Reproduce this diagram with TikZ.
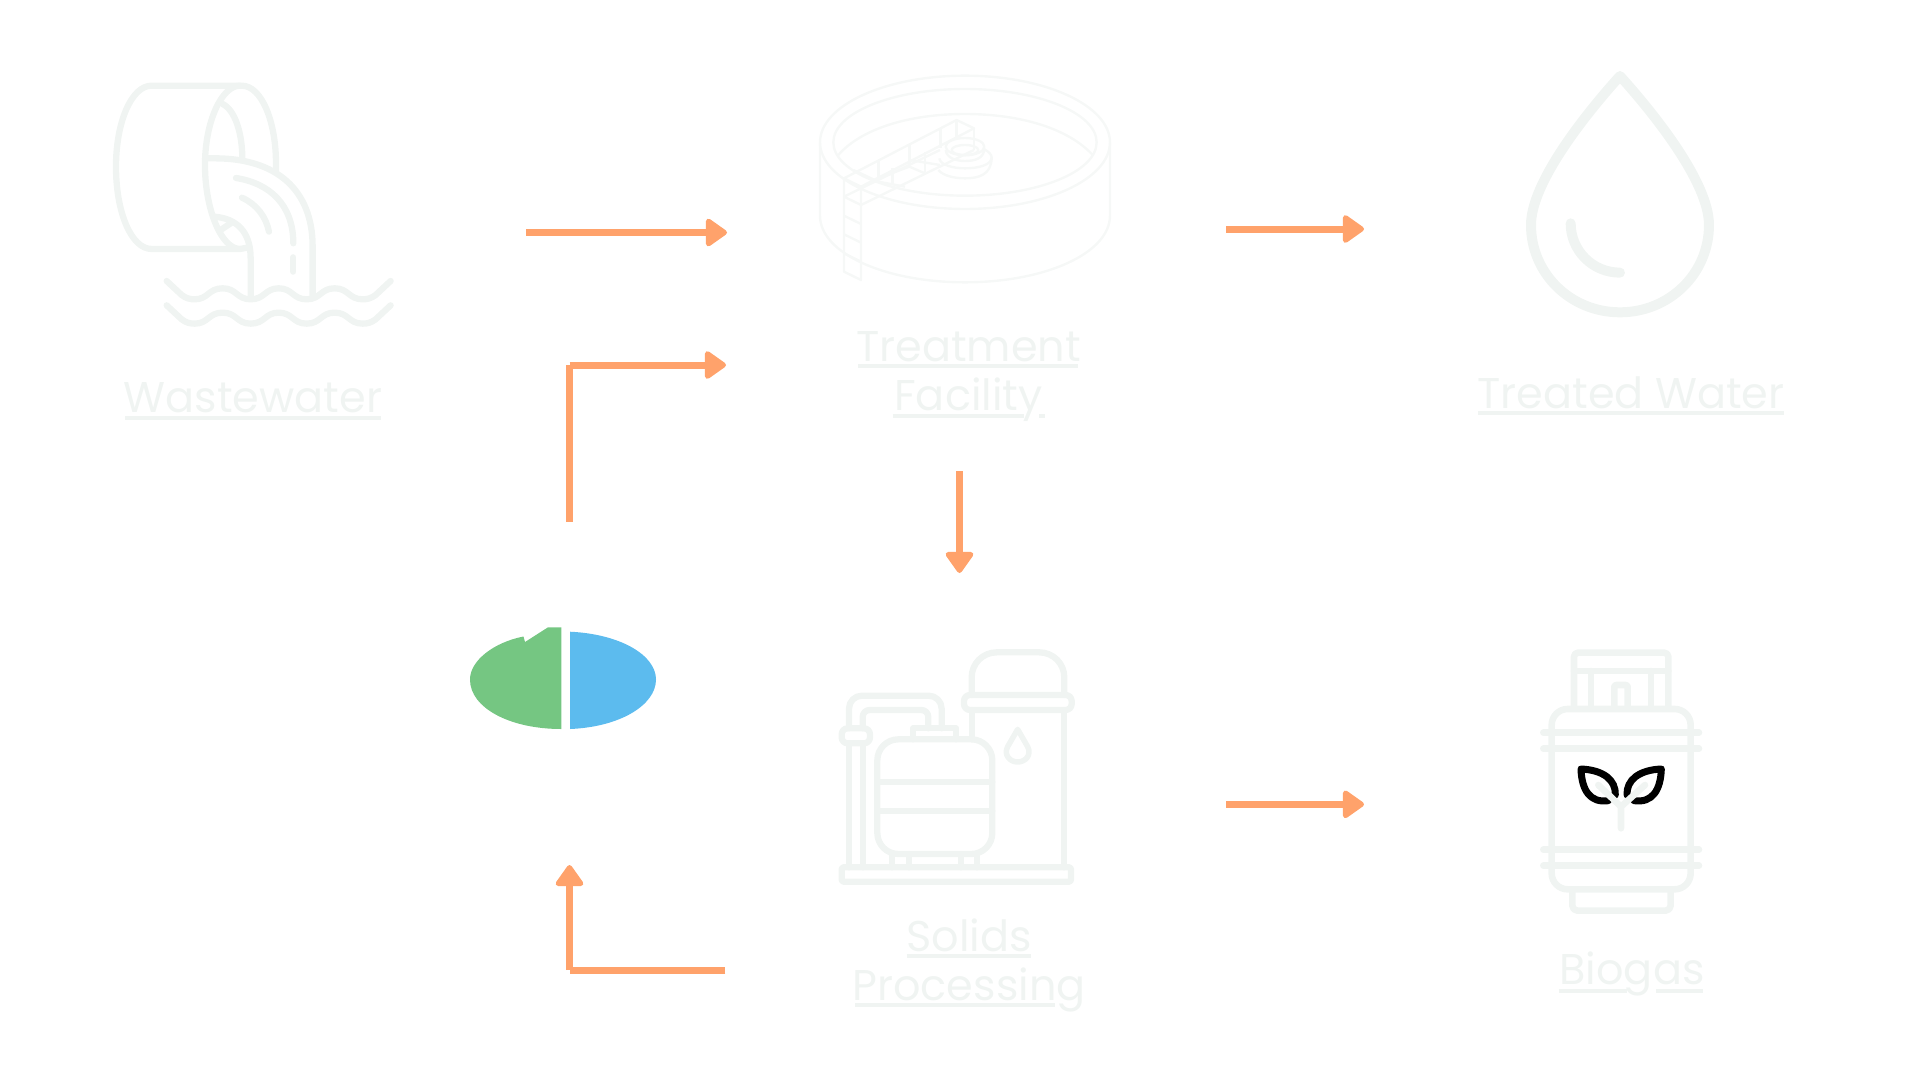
\documentclass[tikz,border=0pt]{standalone}
\usepackage{fontspec}
\setmainfont{Poppins}
\usepackage{xcolor}
\definecolor{iconc}{RGB}{240,244,242}
\definecolor{tankc}{RGB}{246,248,247}
\definecolor{flowc}{RGB}{255,162,107}
\definecolor{pgreen}{RGB}{117,198,130}
\definecolor{pblue}{RGB}{92,187,238}
\usepackage{tikz}
\usetikzlibrary{arrows.meta,positioning}

\begin{document}
\begin{tikzpicture}[
  x=1pt,y=-1pt,
  lbl/.style={text=iconc,align=center,inner sep=0pt,anchor=base,font=\fontsize{43}{49.5}\selectfont},
  lrule/.style={draw=iconc,line width=4pt},
  flow/.style={draw=flowc,line width=7pt},
  arrow/.style={flow,-{Triangle[length=23pt,width=31pt,round,line width=5pt,sep=0pt]}},
  iconline/.style={draw=iconc,line width=6.3pt,line cap=round,line join=round},
  tankline/.style={draw=tankc,line width=2.4pt,line join=round},
  zoomed/.style={x=.3333pt,y=-.3333pt}
]
  \useasboundingbox (0,0) rectangle (1920,1080);

  % Wastewater
  \begin{scope}[shift={(90,50)},zoomed]
    \draw[iconline] (445,597) -- (185,597) .. controls (125,597) and (78,490) .. (78,350) .. controls (78,215) and (125,107) .. (185,107) -- (455,107) .. controls (515,107) and (558,215) .. (558,340) -- (558,368);
    \draw[iconline] (450,107) .. controls (395,107) and (345,215) .. (345,345) .. controls (345,480) and (395,597) .. (450,597) -- (472,593);
    \draw[iconline] (398,162) .. controls (435,180) and (457,250) .. (457,325);
    \draw[iconline] (345,325) -- (375,325) .. controls (560,325) and (668,420) .. (668,590) -- (668,740);
    \draw[iconline] (372,500) .. controls (440,505) and (482,545) .. (482,625) -- (482,745);
    \draw[iconline] (392,540) -- (425,518);
    \draw[iconline] (438,384) .. controls (540,400) and (610,465) .. (610,580);
    \draw[iconline] (610,622) -- (610,665);
    \draw[iconline] (456,443) .. controls (500,463) and (528,500) .. (537,545);
    \foreach \dy in {0,73}
      \draw[iconline,shift={(0,\dy)}] (230,693) -- (275,735) .. controls (288,745) and (300,748) .. (314,748)
        .. controls (355,748) and (355,715) .. (398,715) .. controls (440,715) and (440,748) .. (482,748)
        .. controls (525,748) and (525,715) .. (566,715) .. controls (608,715) and (608,748) .. (650,748)
        .. controls (692,748) and (692,715) .. (734,715) .. controls (776,715) and (776,748) .. (818,748)
        .. controls (832,748) and (844,745) .. (857,735) -- (902,693);
  \end{scope}
  \node[lbl] (wastewater) at (253,412.7) {Wastewater};
  \draw[lrule] (125,417.7) -- (381,417.7);

  % Treatment tank
  \begin{scope}[shift={(790,50)},zoomed]
    \draw[tankline] (525,277) ellipse (435 and 200);
    \draw[tankline] (525,277) ellipse (395 and 160);
    \draw[tankline] (145,315) .. controls (215,235) and (360,192) .. (525,192) .. controls (690,192) and (835,235) .. (908,315);
    \draw[tankline] (90,277) -- (90,497) .. controls (90,610) and (285,697) .. (525,697) .. controls (765,697) and (960,610) .. (960,497) -- (960,277);
    % walkway
    \draw[tankline] (162,385) -- (500,210) -- (552,235) -- (213,410) -- cycle;
    \draw[tankline] (162,440) -- (450,300) (213,465) -- (552,300);
    \draw[tankline] (162,385) -- (162,665) -- (213,690) -- (213,410);
    \foreach \ry in {440,497,553,610}
      \draw[tankline] (162,\ry) -- (213,\ry+25);
    \draw[tankline] (265,330) -- (265,385) (358,282) -- (358,345) (452,235) -- (452,295) (500,210) -- (500,270) (552,235) -- (552,300);
    \draw[tankline] (308,355) -- (308,405) (405,305) -- (405,365);
    \draw[tankline] (190,360) -- (265,395) -- (345,410) (265,385) -- (358,350) -- (405,370) (358,330) -- (450,345);
    % centre well
    \draw[tankline] (525,290) ellipse (58 and 26);
    \draw[tankline] (525,300) ellipse (40 and 15);
    \draw[tankline] (467,300) .. controls (470,325) and (500,333) .. (525,333) .. controls (555,333) and (583,325) .. (583,295);
    \draw[tankline] (448,325) .. controls (450,345) and (490,355) .. (525,355) .. controls (565,355) and (605,345) .. (605,322) .. controls (605,315) and (597,305) .. (583,298);
    \draw[tankline] (445,360) .. controls (460,378) and (495,385) .. (525,385) .. controls (565,385) and (605,375) .. (605,322);
  \end{scope}
  \node[lbl] (treatment) at (968.5,410.7) {Treatment\\Facility};
  \draw[lrule] (858,366) -- (1078,366);
  \draw[lrule] (892.7,415.7) -- (1024,415.7) (1039,415.7) -- (1045,415.7);

  % Treated water
  \begin{scope}[shift={(1500,50)},zoomed]
    \draw[iconline,line width=10pt] (360,78) .. controls (250,200) and (93,400) .. (93,525) .. controls (93,672) and (213,787) .. (360,787) .. controls (507,787) and (627,672) .. (627,525) .. controls (627,400) and (470,200) .. cycle;
    \draw[iconline,line width=10pt] (212,520) .. controls (212,602) and (278,668) .. (360,668);
  \end{scope}
  \node[lbl] (treatedwater) at (1631,408) {Treated Water};
  \draw[lrule] (1478,412.7) -- (1784,412.7);

  % Pie
  \fill[pgreen] (561.3,627.3) -- (548,627.3) -- (525,642) -- (523.5,636.5) .. controls (495,642) and (470,660) .. (470,679.5) .. controls (470,708) and (510,729) .. (561.3,729) -- cycle;
  \fill[pblue] (570,631.7) .. controls (620,634) and (656,655) .. (656,679.5) .. controls (656,705) and (620,727) .. (570,729) -- cycle;

  % Solids processing
  \begin{scope}[shift={(820,630)},zoomed]
    \draw[iconline,rounded corners=1.5pt] (65,712) rectangle (753,755);
    \draw[iconline,rounded corners=21pt] (172,328) rectangle (517,672);
    \draw[iconline] (172,457) -- (517,457) (172,542) -- (517,542);
    \draw[iconline] (280,328) -- (280,295) -- (408,295) -- (408,328);
    \foreach \fx in {216,267,422,472}
      \draw[iconline] (\fx,672) -- (\fx,712);
    \draw[iconline,rounded corners=25pt] (455,195) -- (455,67) -- (733,67) -- (733,195);
    \draw[iconline,rounded corners=6pt] (432,195) rectangle (755,240);
    \draw[iconline] (455,240) -- (455,328) (733,240) -- (733,712);
    \draw[iconline,line width=5.5pt] (593,298) -- (563,350) .. controls (550,375) and (570,396) .. (593,396) .. controls (616,396) and (636,375) .. (623,350) -- cycle;
    \draw[iconline,rounded corners=13pt] (87,295) -- (87,197) -- (365,197) -- (365,295);
    \draw[iconline,rounded corners=7pt] (128,295) -- (128,240) -- (325,240) -- (325,295);
    \draw[iconline,rounded corners=6pt] (65,295) rectangle (150,340);
    \draw[iconline] (87,340) -- (87,712) (128,340) -- (128,712);
  \end{scope}
  \node[lbl] (solids) at (969,1000.7) {Solids\\Processing};
  \draw[lrule] (906.7,955.7) -- (1030.7,955.7);
  \draw[lrule] (855,1005) -- (1055,1005);

  % Biogas
  \begin{scope}[shift={(1510,630)},zoomed]
    \draw[iconline,line width=6.6pt,rounded corners=4pt] (192,235) -- (192,68) -- (475,68) -- (475,235);
    \draw[iconline,line width=6.6pt] (192,123) -- (475,123) (243,123) -- (243,235) (423,123) -- (423,235);
    \draw[iconline,line width=6.6pt,rounded corners=2pt] (313,235) -- (313,165) -- (353,165) -- (353,235);
    \draw[iconline,line width=6.6pt,rounded corners=16pt] (125,237) rectangle (542,778);
    \foreach \by in {308,356,659,707}
      \draw[iconline,line width=6.6pt] (100,\by) -- (567,\by);
    \draw[iconline,line width=6.6pt,rounded corners=5pt] (187,778) -- (187,842) -- (482,842) -- (482,778);
    % leaves
    \draw[black,line width=7pt,line cap=round,line join=round] (316,495) .. controls (318,450) and (280,420) .. (213,417) .. controls (215,480) and (240,520) .. (295,512);
    \draw[black,line width=7pt,line cap=round,line join=round] (351,495) .. controls (349,450) and (387,420) .. (454,417) .. controls (452,480) and (427,520) .. (372,512);
    \draw[iconline,line width=6.6pt] (333,595) -- (333,530) -- (265,465) (333,530) -- (405,465);
  \end{scope}
  \node[lbl] (biogas) at (1632,984.5) {Biogas};
  \draw[lrule] (1558.7,991) -- (1626.7,991) (1656,991) -- (1703,991);

  % Flow ends
  \coordinate (wout) at (526,232.5);
  \coordinate (tin) at (727,232.5);
  \coordinate (pout) at (569.5,522);
  \coordinate (pup) at (569.5,365);
  \coordinate (tret) at (726,365);
  \coordinate (tdown) at (959.5,471);
  \coordinate (sin) at (959.5,573);
  \coordinate (tout) at (1226.3,229);
  \coordinate (win) at (1364,229);
  \coordinate (sout) at (1226.3,804.3);
  \coordinate (bin) at (1364,804.3);
  \coordinate (sret) at (725.3,970);
  \coordinate (pdown) at (569.5,970);
  \coordinate (pin) at (569.5,865);

  % Arrows
  \draw[arrow] (wout) -- (tin);
  \draw[flow] (pout) -- (pup);
  \draw[arrow] (pup) -- (tret);
  \draw[arrow] (tdown) -- (sin);
  \draw[arrow] (tout) -- (win);
  \draw[arrow] (sout) -- (bin);
  \draw[flow] (sret) -- (pdown);
  \draw[arrow] (pdown) -- (pin);
\end{tikzpicture}
\end{document}
